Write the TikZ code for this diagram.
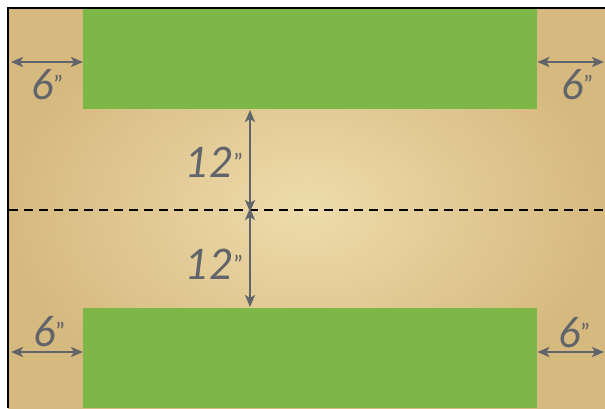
\documentclass[tikz,border=0pt]{standalone}
\usepackage{fontspec}
\setmainfont{Lato}
\usetikzlibrary{arrows.meta}
\definecolor{parchin}{HTML}{EEDCAC}
\definecolor{parchout}{HTML}{D6B97F}
\definecolor{fieldgreen}{HTML}{7DB748}
\definecolor{dimgray}{HTML}{61646A}
\tikzset{
  dimarrow/.style={draw=dimgray, line width=2.2pt, {Stealth[length=12pt,width=10pt,inset=3pt]}-{Stealth[length=12pt,width=10pt,inset=3pt]}},
  dimlabel/.style={text=dimgray, font=\fontsize{42}{42}\itshape\selectfont, inner sep=0pt},
  field/.style={fill=fieldgreen, draw=none},
  midline/.style={draw=black, line width=1.2pt, dash pattern=on 9pt off 6pt}
}
\newcommand{\inch}[1]{#1\raisebox{6pt}{\fontsize{24}{24}\selectfont\upshape"}}
\begin{document}
\begin{tikzpicture}[x=1pt,y=-1pt]
\useasboundingbox (0,0) rectangle (605,408);
\fill[white] (0,0) rectangle (605,408);
% parchment
\shade[inner color=parchin, outer color=parchout] (8,8) rectangle (605,408);
% border
\draw[black, line width=2pt] (8,408) -- (8,8) -- (605,8);
% green fields
\node[field, minimum width=454pt, minimum height=100pt, inner sep=0pt, anchor=north west] (topfield) at (83,9) {};
\node[field, minimum width=454pt, minimum height=100pt, inner sep=0pt, anchor=north west] (botfield) at (83,308) {};
% centre line
\coordinate (midL) at (9,210);
\coordinate (midR) at (605,210);
\draw[midline] (midL) -- (midR);
% coordinates
\coordinate (lborder1) at (11,62);
\coordinate (rborder1) at (604,62);
\coordinate (lborder2) at (11,352);
\coordinate (rborder2) at (604,352);
\coordinate (centre) at (250,210);
\coordinate (topedge) at (250,110);
\coordinate (botedge) at (250,307);
% dimension arrows
\draw[dimarrow] (lborder1) -- (topfield.west |- lborder1);
\draw[dimarrow] (topfield.east |- rborder1) -- (rborder1);
\draw[dimarrow] (lborder2) -- (botfield.west |- lborder2);
\draw[dimarrow] (botfield.east |- rborder2) -- (rborder2);
\draw[dimarrow] (topedge) -- ([yshift=-2pt]centre);
\draw[dimarrow] ([yshift=2pt]centre) -- (botedge);
% labels
\node[dimlabel] (l6a) at (47,85) {\inch{6}};
\node[dimlabel] (r6a) at (577,85) {\inch{6}};
\node[dimlabel] (l6b) at (49,332) {\inch{6}};
\node[dimlabel] (r6b) at (574,333) {\inch{6}};
\node[dimlabel] (t12) at (214,162) {\inch{12}};
\node[dimlabel] (b12) at (214,264) {\inch{12}};
\end{tikzpicture}
\end{document}
